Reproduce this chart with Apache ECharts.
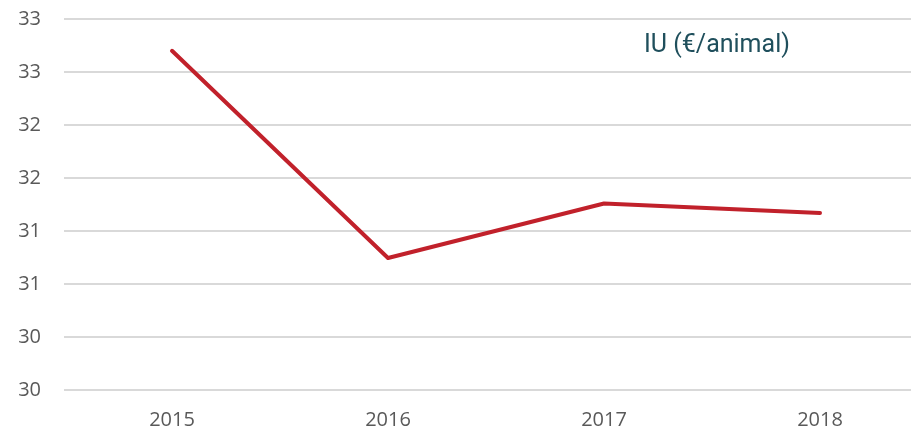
<!DOCTYPE html>
<html><head><meta charset="utf-8">
<script src="https://cdn.jsdelivr.net/npm/echarts@6/dist/echarts.min.js"></script>
<style>html,body{margin:0;padding:0;background:#fff}#c{width:911px;height:434px}</style>
</head><body><div id="c"></div>
<script>
const categories = ['2015', '2016', '2017', '2018'];
const seriesName = 'IU (€/animal)';
const values = [32.70, 30.745, 31.26, 31.17];
const yTicks = [29.5, 30.0, 30.5, 31.0, 31.5, 32.0, 32.5, 33.0];
const yTickLabels = ['30', '30', '31', '31', '32', '32', '33', '33'];

const chart = echarts.init(document.getElementById('c'));
chart.setOption({
  animation: false,
  title: {
    text: seriesName, left: 639, top: 28,
    textStyle: { fontFamily: 'Roboto', fontWeight: 'normal', fontSize: 25, color: '#1f4f5c' }
  },
  grid: { left: 64, width: 864, top: 19, bottom: 44, outerBoundsMode: 'none' },
  xAxis: {
    type: 'category', data: categories, boundaryGap: true,
    axisLine: { show: false }, axisTick: { show: false },
    axisLabel: { color: '#595959', fontSize: 20, fontFamily: 'Open Sans', margin: 20 }
  },
  yAxis: {
    type: 'value', min: yTicks[0], max: yTicks[yTicks.length - 1], interval: 0.5,
    axisLine: { show: false }, axisTick: { show: false },
    splitLine: { lineStyle: { color: '#d9d9d9', width: 2 } },
    axisLabel: {
      color: '#595959', fontSize: 20, fontFamily: 'Open Sans', margin: 23,
      formatter: function (v) {
        const i = yTicks.findIndex(t => Math.abs(t - v) < 1e-6);
        return i >= 0 ? yTickLabels[i] : '';
      }
    }
  },
  series: [{
    name: seriesName, type: 'line', data: values, symbol: 'none',
    lineStyle: { color: '#c1212b', width: 4, cap: 'round', join: 'round' }
  }]
});
</script></body></html>
